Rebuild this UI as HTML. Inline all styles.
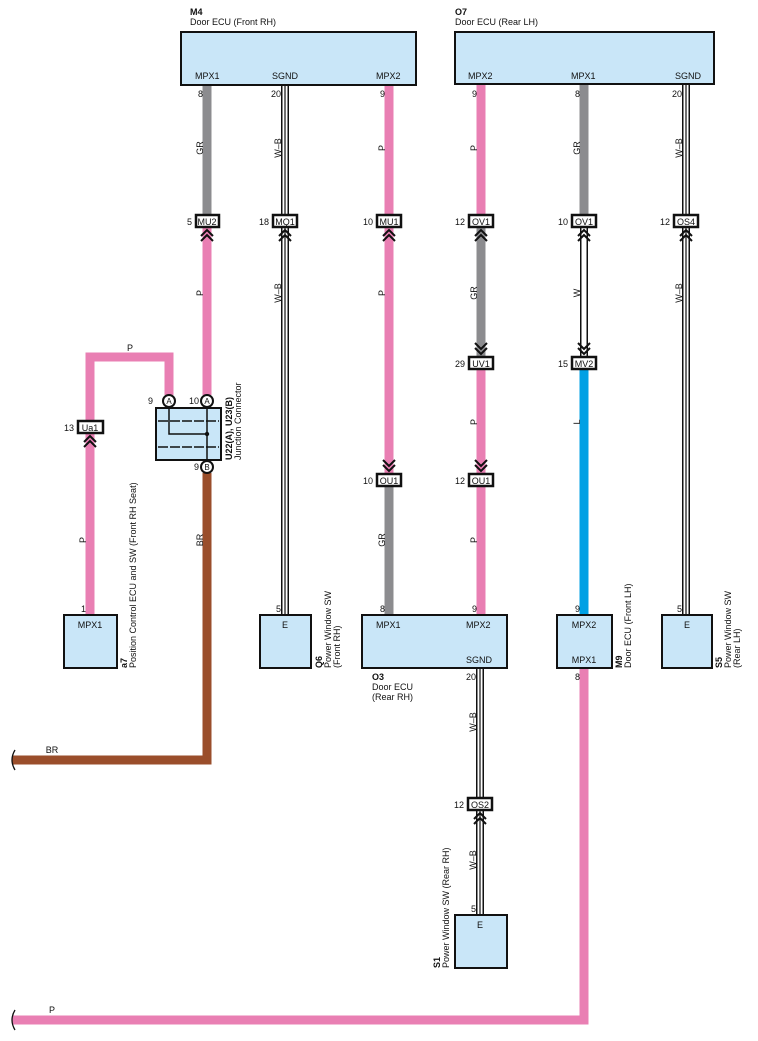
<!DOCTYPE html>
<html><head><meta charset="utf-8"><style>
html,body{margin:0;padding:0;background:#fff}
svg{display:block;font-family:"Liberation Sans",Arial,sans-serif}
text{font-size:9px;fill:#111}
.b{font-weight:bold}
.bx{fill:#c9e6f8;stroke:#111;stroke-width:2}
.tg{fill:#fff;stroke:#111;stroke-width:2.5}
.ch{fill:none;stroke:#111;stroke-width:2}
</style></head><body>
<svg width="758" height="1041" viewBox="0 0 758 1041" xmlns="http://www.w3.org/2000/svg">
<g stroke-linecap="butt">
<line x1="207" y1="85" x2="207" y2="215" stroke="#8c8c8f" stroke-width="9"/>
<line x1="207" y1="227" x2="207" y2="395" stroke="#e97fb3" stroke-width="9"/>
<polyline points="207,473 207,760 12,760" fill="none" stroke="#9a4e2b" stroke-width="9"/>
<polyline points="90,421 90,357 169,357 169,395" fill="none" stroke="#e97fb3" stroke-width="9"/>
<line x1="90" y1="433" x2="90" y2="615" stroke="#e97fb3" stroke-width="9"/>
<line x1="389" y1="85" x2="389" y2="215" stroke="#e97fb3" stroke-width="9"/>
<line x1="389" y1="227" x2="389" y2="474" stroke="#e97fb3" stroke-width="9"/>
<line x1="389" y1="486" x2="389" y2="615" stroke="#8c8c8f" stroke-width="9"/>
<line x1="481" y1="85" x2="481" y2="215" stroke="#e97fb3" stroke-width="9"/>
<line x1="481" y1="227" x2="481" y2="357" stroke="#8c8c8f" stroke-width="9"/>
<line x1="481" y1="369" x2="481" y2="474" stroke="#e97fb3" stroke-width="9"/>
<line x1="481" y1="486" x2="481" y2="615" stroke="#e97fb3" stroke-width="9"/>
<line x1="584" y1="85" x2="584" y2="215" stroke="#8c8c8f" stroke-width="9"/>
<line x1="584" y1="227" x2="584" y2="357" stroke="#111" stroke-width="8"/>
<line x1="584" y1="227" x2="584" y2="357" stroke="#fff" stroke-width="5"/>
<line x1="584" y1="369" x2="584" y2="615" stroke="#00a0e4" stroke-width="9"/>
<polyline points="584,668 584,1020 12,1020" fill="none" stroke="#e97fb3" stroke-width="9"/>
</g>
<g>
<g stroke="#111" stroke-width="8"><line x1="285" y1="85" x2="285" y2="615"/><line x1="686" y1="85" x2="686" y2="615"/><line x1="480" y1="668" x2="480" y2="915"/></g>
<g stroke="#fff" stroke-width="5"><line x1="285" y1="85" x2="285" y2="615"/><line x1="686" y1="85" x2="686" y2="615"/><line x1="480" y1="668" x2="480" y2="915"/></g>
<g stroke="#111" stroke-width="1.2"><line x1="285" y1="85" x2="285" y2="615"/><line x1="686" y1="85" x2="686" y2="615"/><line x1="480" y1="668" x2="480" y2="915"/></g>
</g>
<path d="M15,750 q-6,10 0,20" fill="none" stroke="#111" stroke-width="1.3"/>
<path d="M15,1010 q-6,10 0,20" fill="none" stroke="#111" stroke-width="1.3"/>
<rect class="bx" x="181" y="32" width="235" height="53"/>
<rect class="bx" x="455" y="32" width="259" height="52"/>
<rect class="bx" x="64" y="615" width="53" height="53"/>
<rect class="bx" x="260" y="615" width="51" height="53"/>
<rect class="bx" x="362" y="615" width="145" height="53"/>
<rect class="bx" x="557" y="615" width="55" height="53"/>
<rect class="bx" x="662" y="615" width="50" height="53"/>
<rect class="bx" x="455" y="915" width="52" height="53"/>
<rect class="bx" x="156" y="408" width="65" height="52" stroke-width="2.5"/>
<g stroke="#111" stroke-width="1.5" fill="none">
<line x1="158" y1="421" x2="219" y2="421" stroke-dasharray="10,2"/>
<line x1="158" y1="447" x2="219" y2="447" stroke-dasharray="10,2"/>
<polyline points="169,407 169,434 207,434"/>
<line x1="207" y1="407" x2="207" y2="461"/>
</g>
<circle cx="207" cy="434" r="2.2" fill="#111"/>
<g stroke="#111" stroke-width="2" fill="#fff"><circle cx="169" cy="401" r="6"/><circle cx="207" cy="401" r="6"/><circle cx="207" cy="467" r="6"/></g>
<text x="169" y="404" text-anchor="middle" style="font-size:8px">A</text><text x="207" y="404" text-anchor="middle" style="font-size:8px">A</text><text x="207" y="470" text-anchor="middle" style="font-size:8px">B</text>
<text x="153" y="404" text-anchor="end">9</text><text x="199" y="404" text-anchor="end">10</text><text x="199" y="470" text-anchor="end">9</text>
<g>
<rect class="tg" x="196" y="215" width="23" height="12"/><text x="207" y="225" text-anchor="middle">MU2</text><text x="192" y="225" text-anchor="end">5</text>
<rect class="tg" x="273" y="215" width="24" height="12"/><text x="285" y="225" text-anchor="middle">MQ1</text><text x="269" y="225" text-anchor="end">18</text>
<rect class="tg" x="377" y="215" width="24" height="12"/><text x="389" y="225" text-anchor="middle">MU1</text><text x="373" y="225" text-anchor="end">10</text>
<rect class="tg" x="469" y="215" width="24" height="12"/><text x="481" y="225" text-anchor="middle">OV1</text><text x="465" y="225" text-anchor="end">12</text>
<rect class="tg" x="572" y="215" width="24" height="12"/><text x="584" y="225" text-anchor="middle">OV1</text><text x="568" y="225" text-anchor="end">10</text>
<rect class="tg" x="674" y="215" width="24" height="12"/><text x="686" y="225" text-anchor="middle">OS4</text><text x="670" y="225" text-anchor="end">12</text>
<rect class="tg" x="469" y="357" width="24" height="12"/><text x="481" y="367" text-anchor="middle">UV1</text><text x="465" y="367" text-anchor="end">29</text>
<rect class="tg" x="572" y="357" width="24" height="12"/><text x="584" y="367" text-anchor="middle">MV2</text><text x="568" y="367" text-anchor="end">15</text>
<rect class="tg" x="377" y="474" width="24" height="12"/><text x="389" y="484" text-anchor="middle">OU1</text><text x="373" y="484" text-anchor="end">10</text>
<rect class="tg" x="469" y="474" width="24" height="12"/><text x="481" y="484" text-anchor="middle">OU1</text><text x="465" y="484" text-anchor="end">12</text>
<rect class="tg" x="78" y="421" width="25" height="12"/><text x="90" y="431" text-anchor="middle">Ua1</text><text x="74" y="431" text-anchor="end">13</text>
<rect class="tg" x="468" y="798" width="24" height="12"/><text x="480" y="808" text-anchor="middle">OS2</text><text x="464" y="808" text-anchor="end">12</text>
</g>
<g class="ch">
<path d="M201,236 l6,-6 l6,6 M201,241 l6,-6 l6,6"/>
<path d="M279,236 l6,-6 l6,6 M279,241 l6,-6 l6,6"/>
<path d="M383,236 l6,-6 l6,6 M383,241 l6,-6 l6,6"/>
<path d="M475,236 l6,-6 l6,6 M475,241 l6,-6 l6,6"/>
<path d="M578,236 l6,-6 l6,6 M578,241 l6,-6 l6,6"/>
<path d="M680,236 l6,-6 l6,6 M680,241 l6,-6 l6,6"/>
<path d="M84,442 l6,-6 l6,6 M84,447 l6,-6 l6,6"/>
<path d="M474,819 l6,-6 l6,6 M474,824 l6,-6 l6,6"/>
<path d="M475,343 l6,6 l6,-6 M475,348 l6,6 l6,-6"/>
<path d="M578,343 l6,6 l6,-6 M578,348 l6,6 l6,-6"/>
<path d="M383,460 l6,6 l6,-6 M383,465 l6,6 l6,-6"/>
<path d="M475,460 l6,6 l6,-6 M475,465 l6,6 l6,-6"/>
</g>
<text x="190" y="15" class="b">M4</text><text x="190" y="25">Door ECU (Front RH)</text>
<text x="455" y="15" class="b">O7</text><text x="455" y="25">Door ECU (Rear LH)</text>
<text x="195" y="79">MPX1</text><text x="272" y="79">SGND</text><text x="376" y="79">MPX2</text>
<text x="468" y="79">MPX2</text><text x="571" y="79">MPX1</text><text x="675" y="79">SGND</text>
<text x="203" y="97" text-anchor="end">8</text><text x="281" y="97" text-anchor="end">20</text><text x="385" y="97" text-anchor="end">9</text>
<text x="477" y="97" text-anchor="end">9</text><text x="580" y="97" text-anchor="end">8</text><text x="682" y="97" text-anchor="end">20</text>
<text x="86" y="612" text-anchor="end">1</text><text x="281" y="612" text-anchor="end">5</text><text x="385" y="612" text-anchor="end">8</text><text x="477" y="612" text-anchor="end">9</text><text x="580" y="612" text-anchor="end">9</text><text x="682" y="612" text-anchor="end">5</text>
<text x="476" y="680" text-anchor="end">20</text><text x="580" y="680" text-anchor="end">8</text><text x="476" y="912" text-anchor="end">5</text>
<text x="90" y="628" text-anchor="middle">MPX1</text><text x="285" y="628" text-anchor="middle">E</text>
<text x="376" y="628">MPX1</text><text x="466" y="628">MPX2</text><text x="466" y="663">SGND</text>
<text x="584" y="628" text-anchor="middle">MPX2</text><text x="584" y="663" text-anchor="middle">MPX1</text>
<text x="687" y="628" text-anchor="middle">E</text><text x="480" y="928" text-anchor="middle">E</text>
<text x="372" y="680" class="b">O3</text><text x="372" y="690">Door ECU</text><text x="372" y="700">(Rear RH)</text>
<g>
<text transform="translate(127,668) rotate(-90)" class="b">a7</text>
<text transform="translate(136,668) rotate(-90)">Position Control ECU and SW (Front RH Seat)</text>
<text transform="translate(232,460) rotate(-90)" class="b">U22(A), U23(B)</text>
<text transform="translate(241,460) rotate(-90)">Junction Connector</text>
<text transform="translate(322,668) rotate(-90)" class="b">Q6</text>
<text transform="translate(331,668) rotate(-90)">Power Window SW</text>
<text transform="translate(340,668) rotate(-90)">(Front RH)</text>
<text transform="translate(622,668) rotate(-90)" class="b">M9</text>
<text transform="translate(631,668) rotate(-90)">Door ECU (Front LH)</text>
<text transform="translate(722,668) rotate(-90)" class="b">S5</text>
<text transform="translate(731,668) rotate(-90)">Power Window SW</text>
<text transform="translate(740,668) rotate(-90)">(Rear LH)</text>
<text transform="translate(440,968) rotate(-90)" class="b">S1</text>
<text transform="translate(449,968) rotate(-90)">Power Window SW (Rear RH)</text>
</g>
<g text-anchor="middle">
<text transform="translate(203,148) rotate(-90)">GR</text>
<text transform="translate(281,148) rotate(-90)">W–B</text>
<text transform="translate(385,148) rotate(-90)">P</text>
<text transform="translate(477,148) rotate(-90)">P</text>
<text transform="translate(580,148) rotate(-90)">GR</text>
<text transform="translate(682,148) rotate(-90)">W–B</text>
<text transform="translate(203,293) rotate(-90)">P</text>
<text transform="translate(281,293) rotate(-90)">W–B</text>
<text transform="translate(385,293) rotate(-90)">P</text>
<text transform="translate(477,293) rotate(-90)">GR</text>
<text transform="translate(580,293) rotate(-90)">W</text>
<text transform="translate(682,293) rotate(-90)">W–B</text>
<text transform="translate(477,422) rotate(-90)">P</text>
<text transform="translate(580,422) rotate(-90)">L</text>
<text transform="translate(86,540) rotate(-90)">P</text>
<text transform="translate(203,540) rotate(-90)">BR</text>
<text transform="translate(385,540) rotate(-90)">GR</text>
<text transform="translate(477,540) rotate(-90)">P</text>
<text transform="translate(476,722) rotate(-90)">W–B</text>
<text transform="translate(476,860) rotate(-90)">W–B</text>
<text x="130" y="351">P</text>
<text x="52" y="753">BR</text>
<text x="52" y="1013">P</text>
</g>
</svg>
</body></html>
